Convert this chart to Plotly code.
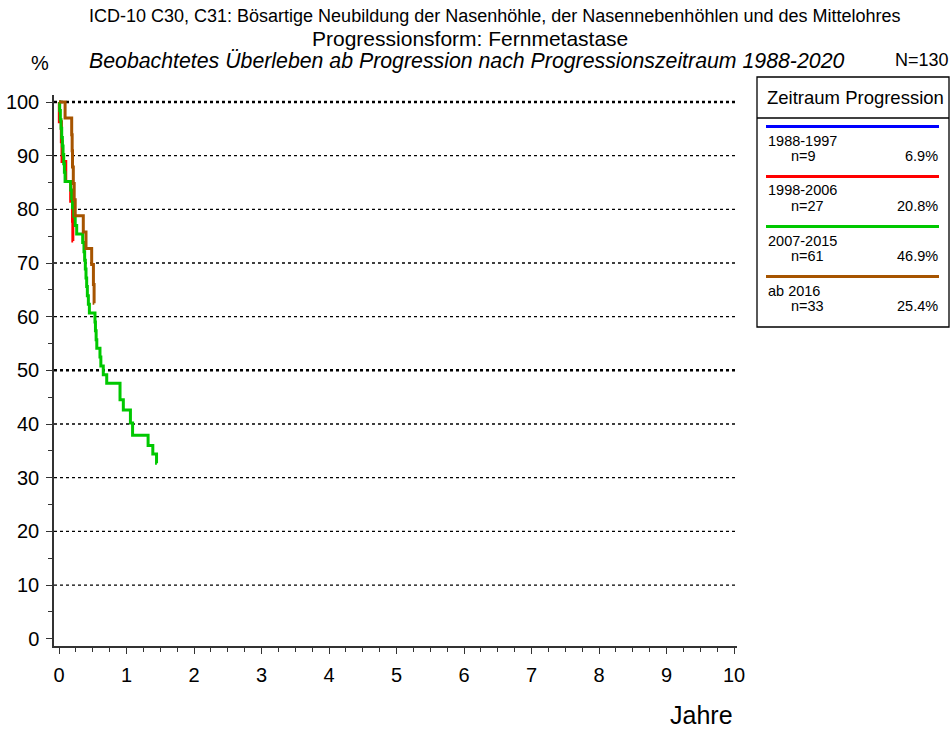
import plotly.graph_objects as go

# Kaplan-Meier survival (%) per progression period: event times in years
periods = ["1988-1997", "1998-2006", "2007-2015", "ab 2016"]
counts = ["n=9", "n=27", "n=61", "n=33"]
shares = ["6.9%", "20.8%", "46.9%", "25.4%"]
colors = ["#0000FF", "#FF0000", "#00C800", "#A65400"]

t_1988 = []
s_1988 = []

t_1998 = [0, 0.005, 0.035, 0.045, 0.10, 0.173, 0.20, 0.205, 0.21]
s_1998 = [100, 96.3, 92.6, 88.9, 85.2, 81.5, 77.8, 74.1, 74.1]

t_2007 = [0, 0.01, 0.02, 0.03, 0.04, 0.05, 0.06, 0.07, 0.08, 0.09,
          0.173, 0.188, 0.20, 0.22, 0.24, 0.262, 0.351, 0.37, 0.38, 0.39,
          0.40, 0.41, 0.42, 0.435, 0.45, 0.533, 0.54, 0.55, 0.56, 0.607,
          0.62, 0.656, 0.707, 0.904, 0.953, 1.058, 1.09, 1.32, 1.39, 1.445, 1.45]
s_2007 = [100, 98.4, 96.7, 95.1, 93.4, 91.8, 90.2, 88.5, 86.9, 85.2,
          83.6, 82.0, 80.3, 78.7, 77.0, 75.4, 73.8, 72.1, 70.5, 68.9,
          67.2, 65.6, 63.9, 62.3, 60.7, 59.0, 57.4, 55.7, 54.1, 52.5,
          50.8, 49.2, 47.6, 44.5, 42.6, 40.2, 37.9, 36.0, 34.4, 32.7, 32.7]

t_2016 = [0, 0.09, 0.188, 0.195, 0.20, 0.212, 0.225, 0.24, 0.36, 0.40,
          0.484, 0.51, 0.52, 0.523]
s_2016 = [100, 97.0, 93.9, 90.9, 87.9, 84.8, 81.8, 78.8, 75.8, 72.7,
          69.7, 66.0, 62.5, 62.5]

series_t = [t_1988, t_1998, t_2007, t_2016]
series_s = [s_1988, s_1998, s_2007, s_2016]

x_ticks = list(range(0, 11))
y_ticks = list(range(0, 101, 10))
y_grid = list(range(10, 101, 10))
y_grid_bold = [50, 100]

FONT = "Liberation Sans, Arial, sans-serif"
W, H = 952, 729
L, R, T, B = 54, 737, 95, 646  # plot area in pixels


def px(x):
    return (x - L) / (R - L)


def py(y):
    return (B - y) / (B - T)


fig = go.Figure()
for name, tt, ss, col in zip(periods, series_t, series_s, colors):
    fig.add_trace(go.Scatter(x=tt, y=ss, mode="lines", name=name,
                             line=dict(color=col, width=3, shape="hv"),
                             showlegend=False, hoverinfo="skip"))

shapes = []
# dotted horizontal grid lines
for g in y_grid:
    bold = g in y_grid_bold
    shapes.append(dict(type="line", xref="paper", yref="y", x0=0, x1=1, y0=g, y1=g,
                       line=dict(color="black", width=2.5 if bold else 1.3, dash="dot"),
                       layer="below"))

# legend box
lx0, lx1, ly0, ly1 = 757, 949, 77, 327
shapes.append(dict(type="rect", xref="paper", yref="paper",
                   x0=px(lx0), x1=px(lx1), y0=py(ly1), y1=py(ly0),
                   line=dict(color="black", width=1.3)))
shapes.append(dict(type="line", xref="paper", yref="paper",
                   x0=px(lx0), x1=px(lx1), y0=py(118), y1=py(118),
                   line=dict(color="black", width=1.3)))

annotations = []
annotations.append(dict(x=px(855), y=py(97), xref="paper", yref="paper",
                        text="Zeitraum Progression", showarrow=False,
                        font=dict(size=18.5, family=FONT, color="black"),
                        xanchor="center", yanchor="middle"))

row_step = 50
for i, (name, n, sh, col) in enumerate(zip(periods, counts, shares, colors)):
    y0 = 126.5 + i * row_step
    shapes.append(dict(type="line", xref="paper", yref="paper",
                       x0=px(766), x1=px(939), y0=py(y0), y1=py(y0),
                       line=dict(color=col, width=3)))
    annotations.append(dict(x=px(766), y=py(y0 + 14), xref="paper", yref="paper",
                            text=name, showarrow=False, xanchor="left", yanchor="middle",
                            font=dict(size=14.5, family=FONT, color="black")))
    annotations.append(dict(x=px(789), y=py(y0 + 29.5), xref="paper", yref="paper",
                            text=n, showarrow=False, xanchor="left", yanchor="middle",
                            font=dict(size=14.5, family=FONT, color="black")))
    annotations.append(dict(x=px(940), y=py(y0 + 29.5), xref="paper", yref="paper",
                            text=sh, showarrow=False, xanchor="right", yanchor="middle",
                            font=dict(size=14.5, family=FONT, color="black")))

# titles
annotations.append(dict(x=px(495), y=py(16), xref="paper", yref="paper",
                        text="ICD-10 C30, C31: Bösartige Neubildung der Nasenhöhle, der Nasennebenhöhlen und des Mittelohres",
                        showarrow=False, xanchor="center", yanchor="middle",
                        font=dict(size=18, family=FONT, color="black")))
annotations.append(dict(x=px(470), y=py(38), xref="paper", yref="paper",
                        text="Progressionsform: Fernmetastase",
                        showarrow=False, xanchor="center", yanchor="middle",
                        font=dict(size=21, family=FONT, color="black")))
annotations.append(dict(x=px(466), y=py(61), xref="paper", yref="paper",
                        text="<i>Beobachtetes Überleben ab Progression nach Progressionszeitraum 1988-2020</i>",
                        showarrow=False, xanchor="center", yanchor="middle",
                        font=dict(size=21.3, family=FONT, color="black")))
annotations.append(dict(x=px(40), y=py(63), xref="paper", yref="paper",
                        text="%", showarrow=False, xanchor="center", yanchor="middle",
                        font=dict(size=20, family=FONT, color="black")))
annotations.append(dict(x=px(951), y=py(60), xref="paper", yref="paper",
                        text="N=130", showarrow=False, xanchor="right", yanchor="middle",
                        font=dict(size=18, family=FONT, color="black")))
annotations.append(dict(x=px(735), y=py(715), xref="paper", yref="paper",
                        text="Jahre", showarrow=False, xanchor="right", yanchor="middle",
                        font=dict(size=25, family=FONT, color="black")))

x_per_px = 1 / 67.5
y_per_px = 1 / 5.367
x_lo = -(59 - L) * x_per_px
x_hi = x_lo + (R - L) * x_per_px
y_lo = (638.7 - B) * y_per_px
y_hi = y_lo + (B - T) * y_per_px

fig.update_layout(
    width=W, height=H,
    margin=dict(l=L, r=W - R, t=T, b=H - B, pad=0, autoexpand=False),
    paper_bgcolor="white", plot_bgcolor="white",
    shapes=shapes, annotations=annotations,
    font=dict(family=FONT, color="black"),
    xaxis=dict(range=[x_lo, x_hi], tickvals=x_ticks, ticktext=[str(v) for v in x_ticks],
               showgrid=False, zeroline=False, showline=True, linecolor="#333333",
               linewidth=1.5, ticks="outside", ticklen=6, tickwidth=1.3, tickcolor="#333333",
               ticklabelstandoff=4, automargin=False,
               tickfont=dict(size=20, family=FONT, color="black"),
               minor=dict(dtick=0.25, tick0=0, ticks="outside", ticklen=4,
                          tickwidth=1.2, tickcolor="#333333", showgrid=False)),
    yaxis=dict(range=[y_lo, y_hi], tickvals=y_ticks, ticktext=[str(v) for v in y_ticks],
               showgrid=False, zeroline=False, showline=True, linecolor="#333333",
               linewidth=1.5, ticks="outside", ticklen=6, tickwidth=1.3, tickcolor="#333333",
               ticklabelstandoff=3, automargin=False,
               tickfont=dict(size=20, family=FONT, color="black"),
               minor=dict(dtick=5, tick0=0, ticks="outside", ticklen=4,
                          tickwidth=1.2, tickcolor="#333333", showgrid=False)),
)

fig.write_html("out.html")
